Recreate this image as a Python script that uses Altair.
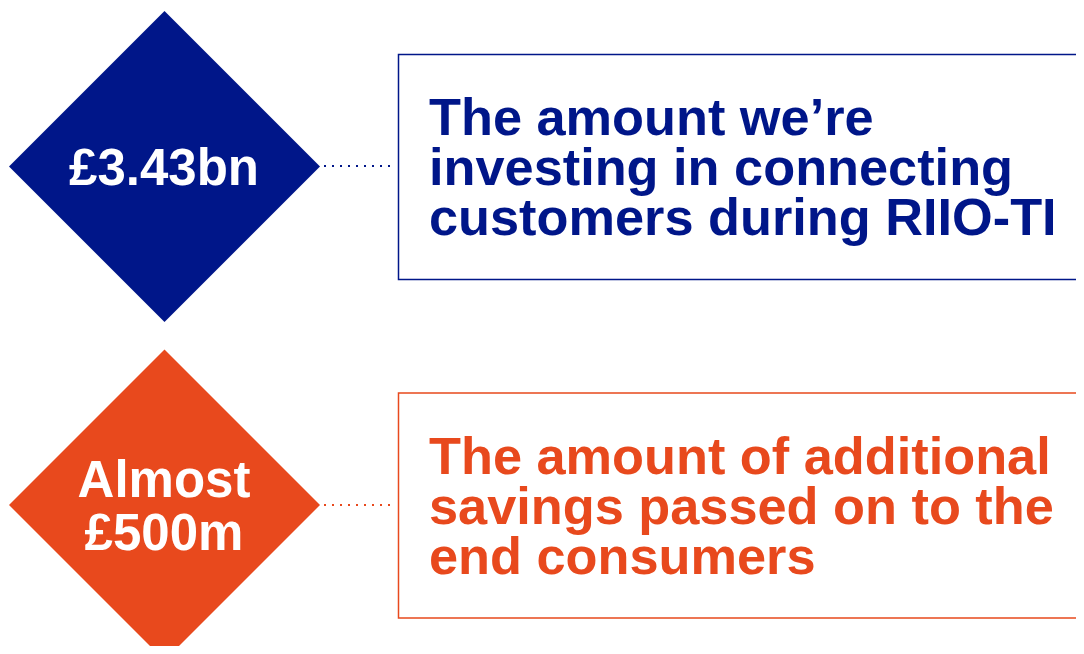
import altair as alt
import pandas as pd

# ---- content ----
stat_labels = [["£3.43bn"], ["Almost", "£500m"]]
descriptions = [
    ["The amount we’re", "investing in connecting", "customers during RIIO-TI"],
    ["The amount of additional", "savings passed on to the", "end consumers"],
]
colors = ["#001689", "#E8491D"]

# ---- layout (page pixel coordinates) ----
PAGE_W, PAGE_H, MARGIN = 1084, 654, 8
VIEW_W, VIEW_H = PAGE_W - 2 * MARGIN, PAGE_H - 2 * MARGIN
row_cy = [166.5, 505.0]
diamond_cx = 164.5
diamond_diag = 311
box_left, box_right = 398.5, 1100
box_up, box_down = 112, 113
conn_x0, conn_x1 = 324, 396
stat_size, stat_lh, stat_cap = 51, 53, 37
desc_size, desc_lh, desc_x, desc_first = 52.3, 50, 429, -31.5

rows, boxes, conns, stats, descs = [], [], [], [], []
for i, cy in enumerate(row_cy):
    c = colors[i]
    rows.append({"x": diamond_cx, "y": cy, "color": c})
    boxes.append({"x": box_left, "x2": box_right, "y": cy - box_up, "y2": cy + box_down, "color": c})
    conns.append({"x": conn_x0, "x2": conn_x1, "y": int(cy), "color": c})
    n = len(stat_labels[i])
    for j, t in enumerate(stat_labels[i]):
        stats.append({"x": diamond_cx - 0.5, "y": cy + stat_cap / 2 + (j - (n - 1) / 2) * stat_lh, "text": t})
    for j, t in enumerate(descriptions[i]):
        descs.append({"x": desc_x, "y": cy + desc_first + j * desc_lh, "text": t, "color": c})

xs = alt.Scale(domain=[MARGIN, MARGIN + VIEW_W], nice=False, zero=False)
ys = alt.Scale(domain=[MARGIN, MARGIN + VIEW_H], nice=False, zero=False, reverse=True)
X = lambda f="x": alt.X(f"{f}:Q", scale=xs, axis=None)
Y = lambda f="y": alt.Y(f"{f}:Q", scale=ys, axis=None)

box_layer = alt.Chart(pd.DataFrame(boxes)).mark_rect(fill="white", strokeWidth=1.5).encode(
    x=X(), x2="x2:Q", y=Y(), y2="y2:Q", stroke=alt.Stroke("color:N", scale=None)
)
conn_layer = alt.Chart(pd.DataFrame(conns)).mark_rule(strokeDash=[2, 6], strokeWidth=2, strokeCap="butt").encode(
    x=X(), x2="x2:Q", y=Y(), color=alt.Color("color:N", scale=None)
)
diamond_layer = alt.Chart(pd.DataFrame(rows)).mark_point(
    shape="diamond", filled=True, size=diamond_diag ** 2, opacity=1
).encode(x=X(), y=Y(), color=alt.Color("color:N", scale=None))
stat_layer = alt.Chart(pd.DataFrame(stats)).mark_text(
    font="Liberation Sans", fontWeight="bold", fontSize=stat_size, align="center",
    baseline="alphabetic", color="white"
).encode(x=X(), y=Y(), text="text:N")
desc_layer = alt.Chart(pd.DataFrame(descs)).mark_text(
    font="Liberation Sans", fontWeight="bold", fontSize=desc_size, align="left",
    baseline="alphabetic"
).encode(x=X(), y=Y(), text="text:N", color=alt.Color("color:N", scale=None))

chart = alt.layer(box_layer, conn_layer, diamond_layer, stat_layer, desc_layer).properties(
    width=VIEW_W, height=VIEW_H, autosize="none", padding=0, background="white"
).configure_view(strokeWidth=0)

chart.save("out.html", embed_options={"renderer": "svg", "actions": False})
